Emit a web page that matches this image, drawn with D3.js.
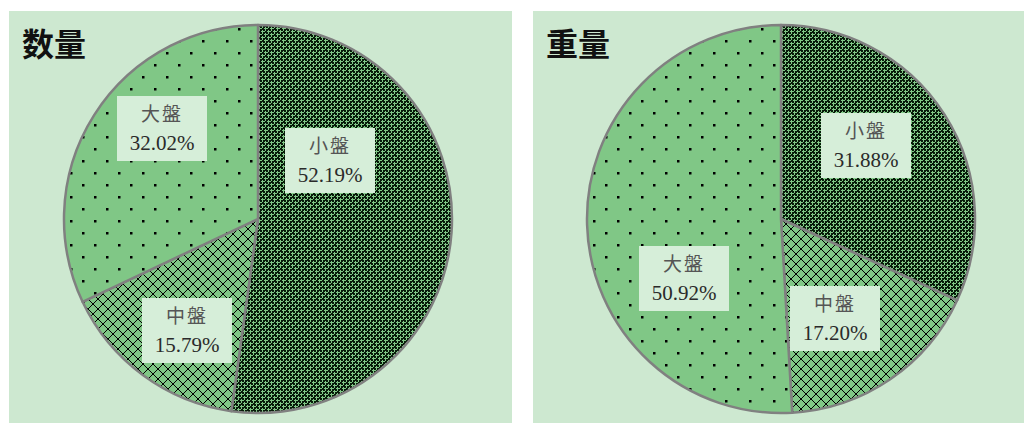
<!DOCTYPE html>
<html>
<head>
<meta charset="utf-8">
<script src="https://cdn.jsdelivr.net/npm/d3@7"></script>
<style>
  html, body { margin: 0; padding: 0; background: #ffffff; }
  svg { display: block; }
</style>
</head>
<body>
<svg id="chart" width="1024" height="423"></svg>
<script>
// Crab catch by size class: share of count (数量) and of weight (重量)
const categories = ["小盤", "中盤", "大盤"];
const countShare = [52.19, 15.79, 32.02];
const weightShare = [31.88, 17.20, 50.92];
const chartTitles = ["数量", "重量"];

// Layout of the two panels and their label boxes (offsets from pie centre)
const layout = [
  { x: 9, y: 11, w: 503, h: 412, cx: 258, cy: 219, r: 194,
    labels: [[72, -59], [-71, 111], [-96, -91]] },
  { x: 533, y: 11, w: 491, h: 412, cx: 781, cy: 219, r: 194,
    labels: [[85, -74], [54, 99], [-97, 59]] }
];

const panelBg = "#cde8d0";
const sliceGreen = "#80c786";
const ink = "#071a09";
const boxFill = "#d6eed9";

const svg = d3.select("#chart");
const defs = svg.append("defs");

// Pattern 小盤: dark lattice with staggered light crosses
(function () {
  const p = defs.append("pattern").attr("id", "pat-small")
    .attr("patternUnits", "userSpaceOnUse").attr("width", 6).attr("height", 6);
  p.append("rect").attr("width", 6).attr("height", 6).attr("fill", ink);
  const cross = [[0,0],[1,0],[-1,0],[0,1],[0,-1],[0,2],[2,0]];
  [[1, 1], [4, 4]].forEach(([cx, cy]) => {
    cross.forEach(([dx, dy]) => {
      const x = ((cx + dx) % 6 + 6) % 6, y = ((cy + dy) % 6 + 6) % 6;
      p.append("rect").attr("x", x).attr("y", y)
        .attr("width", 1).attr("height", 1).attr("fill", sliceGreen);
    });
  });
})();

// Pattern 中盤: diamond grid of stepped diagonal lines
(function () {
  const n = 10;
  const p = defs.append("pattern").attr("id", "pat-mid")
    .attr("patternUnits", "userSpaceOnUse").attr("width", n).attr("height", n);
  p.append("rect").attr("width", n).attr("height", n).attr("fill", sliceGreen);
  for (let i = 0; i < n; i++) {
    p.append("rect").attr("x", i).attr("y", i).attr("width", 1).attr("height", 1).attr("fill", "#000");
    p.append("rect").attr("x", n - 1 - i).attr("y", i).attr("width", 1).attr("height", 1).attr("fill", "#000");
  }
})();

// Pattern 大盤: sparse staggered dots
(function () {
  const p = defs.append("pattern").attr("id", "pat-large")
    .attr("patternUnits", "userSpaceOnUse").attr("width", 24).attr("height", 24)
    .attr("x", 4).attr("y", 1);
  p.append("rect").attr("width", 24).attr("height", 24).attr("fill", sliceGreen);
  [[0, 0], [12, 12]].forEach(([x, y]) => p.append("rect").attr("x", x).attr("y", y)
    .attr("width", 2.5).attr("height", 2.5).attr("fill", "#000"));
})();

const patterns = ["url(#pat-small)", "url(#pat-mid)", "url(#pat-large)"];
const datasets = [countShare, weightShare];

const pie = d3.pie().sort(null).value(d => d).startAngle(0).endAngle(2 * Math.PI);

datasets.forEach((values, k) => {
  const L = layout[k];
  const g = svg.append("g");

  g.append("rect").attr("x", L.x).attr("y", L.y).attr("width", L.w).attr("height", L.h)
    .attr("fill", panelBg);

  const arc = d3.arc().innerRadius(0).outerRadius(L.r);
  const pg = g.append("g").attr("transform", `translate(${L.cx},${L.cy})`);

  pg.selectAll("path.slice")
    .data(pie(values))
    .join("path")
    .attr("class", "slice")
    .attr("d", arc)
    .attr("fill", (d, i) => patterns[i])
    .attr("stroke", "#808080")
    .attr("stroke-width", 2.5)
    .attr("stroke-linejoin", "round");

  // Label boxes
  const lg = pg.selectAll("g.lbl")
    .data(values)
    .join("g")
    .attr("class", "lbl")
    .attr("transform", (d, i) => `translate(${L.labels[i][0]},${L.labels[i][1]})`);

  lg.append("rect")
    .attr("x", -45).attr("y", -32).attr("width", 90).attr("height", 65)
    .attr("fill", boxFill);

  lg.append("text")
    .attr("text-anchor", "middle")
    .attr("y", -7)
    .attr("font-family", "'Noto Sans CJK SC', sans-serif")
    .attr("font-size", 19)
    .attr("fill", "#555555")
    .attr("letter-spacing", 2)
    .text((d, i) => categories[i]);

  lg.append("text")
    .attr("text-anchor", "middle")
    .attr("y", 22)
    .attr("font-family", "'Liberation Serif', 'Times New Roman', serif")
    .attr("font-size", 21)
    .attr("fill", "#2a2a2a")
    .text(d => d.toFixed(2) + "%");

  // Panel title
  g.append("text")
    .attr("x", L.x + 13).attr("y", 56)
    .attr("font-family", "'Noto Sans CJK SC', sans-serif")
    .attr("font-weight", 700)
    .attr("font-size", 32)
    .attr("fill", "#111111")
    .text(chartTitles[k]);
});
</script>
</body>
</html>
